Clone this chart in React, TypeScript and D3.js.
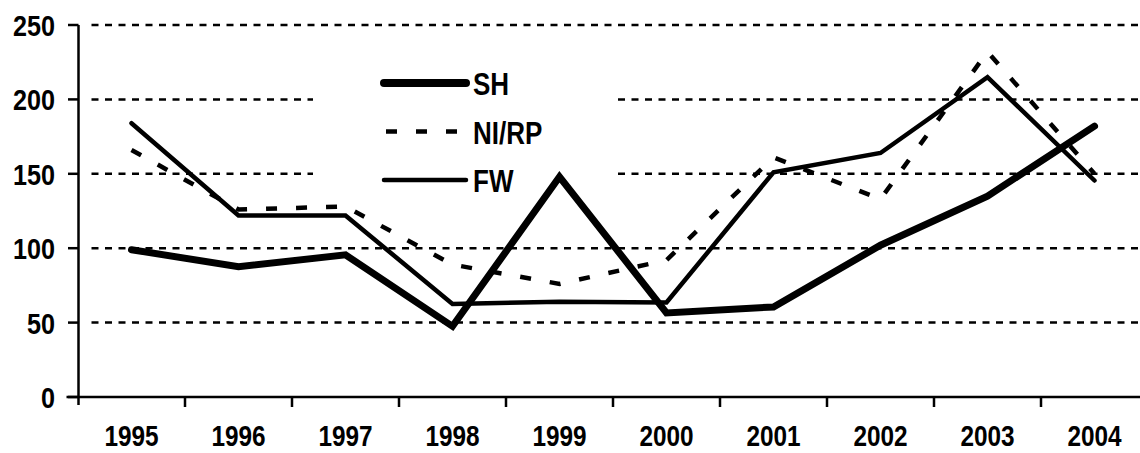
import * as d3 from 'd3';

const years = ['1995', '1996', '1997', '1998', '1999', '2000', '2001', '2002', '2003', '2004'];
const shValues = [99, 87.5, 95.5, 47.5, 148, 56.5, 60.5, 102, 135, 182];
const nirpValues = [166, 126, 128, 89, 76, 92, 161, 133, 232, 150];
const fwValues = [184, 122, 122, 62.5, 64, 63.5, 151, 164, 215, 145.5];
const yTicks = [0, 50, 100, 150, 200, 250];

const WIDTH = 1140;
const HEIGHT = 453;
const FONT = '"Liberation Sans", Arial, sans-serif';
const SQUEEZE = 0.84; // condensed look of the original face

const series = [
  { label: 'SH', values: shValues, width: 7, dash: undefined as string | undefined },
  { label: 'NI/RP', values: nirpValues, width: 4.5, dash: '11,19' },
  { label: 'FW', values: fwValues, width: 4.5, dash: undefined as string | undefined },
];

function Label({ x, y, anchor, size, children }: { x: number; y: number; anchor: string; size: number; children: any }) {
  return (
    <text
      transform={`translate(${x}, ${y}) scale(${SQUEEZE}, 1)`}
      textAnchor={anchor}
      fontFamily={FONT}
      fontWeight="bold"
      fontSize={size}
    >
      {children}
    </text>
  );
}

export default function App() {
  const x = d3.scaleBand<string>().domain(years).range([78, 1148]);
  const y = d3.scaleLinear().domain([0, 250]).range([397, 25]);
  const cx = (yr: string) => (x(yr) ?? 0) + x.bandwidth() / 2;

  const line = d3
    .line<number>()
    .x((_, i) => cx(years[i]))
    .y((d) => y(d));

  const axisX = 78.5;

  return (
    <div style={{ position: 'fixed', top: 0, left: 0 }}>
      <svg width={WIDTH} height={HEIGHT} style={{ display: 'block', background: '#fff' }}>
        {/* gridlines */}
        {yTicks
          .filter((t) => t > 0)
          .map((t) => (
            <line
              key={t}
              x1={axisX + 13}
              x2={WIDTH}
              y1={y(t)}
              y2={y(t)}
              stroke="#000"
              strokeWidth={2.5}
              strokeDasharray="7,6.5"
            />
          ))}

        {/* legend box hides gridlines */}
        <rect x={313} y={40} width={304} height={160} fill="#fff" />

        {/* y axis */}
        <line x1={axisX} x2={axisX} y1={y(250)} y2={405} stroke="#000" strokeWidth={2.5} />
        {yTicks.map((t) => (
          <g key={t}>
            <line x1={68} x2={axisX} y1={y(t)} y2={y(t)} stroke="#000" strokeWidth={2.5} />
            <Label x={55} y={y(t) + 11} anchor="end" size={30}>
              {t}
            </Label>
          </g>
        ))}

        {/* x axis */}
        <line x1={axisX - 12} x2={WIDTH} y1={y(0)} y2={y(0)} stroke="#000" strokeWidth={2.5} />
        {years.map((yr, i) => (
          <g key={yr}>
            {i > 0 && (
              <line
                x1={x(yr)}
                x2={x(yr)}
                y1={y(0)}
                y2={y(0) + 10}
                stroke="#000"
                strokeWidth={2.5}
              />
            )}
            <Label x={cx(yr)} y={446} anchor="middle" size={29}>
              {yr}
            </Label>
          </g>
        ))}

        {/* series */}
        {series.map((s) => (
          <path
            key={s.label}
            d={line(s.values) ?? ''}
            fill="none"
            stroke="#000"
            strokeWidth={s.width}
            strokeDasharray={s.dash}
            strokeLinejoin="miter"
            strokeLinecap={s.dash ? 'butt' : 'round'}
          />
        ))}

        {/* legend */}
        {series.map((s, i) => (
          <g key={s.label} transform={`translate(0, ${83 + i * 48.5})`}>
            <line
              x1={s.dash ? 386 : 384}
              x2={s.dash ? 461 : 466}
              y1={0}
              y2={0}
              stroke="#000"
              strokeWidth={s.width + (i === 0 ? 1 : 0)}
              strokeDasharray={s.dash}
              strokeLinecap={s.dash ? 'butt' : 'round'}
            />
            <Label x={473} y={12} anchor="start" size={31}>
              {s.label}
            </Label>
          </g>
        ))}
      </svg>
    </div>
  );
}
